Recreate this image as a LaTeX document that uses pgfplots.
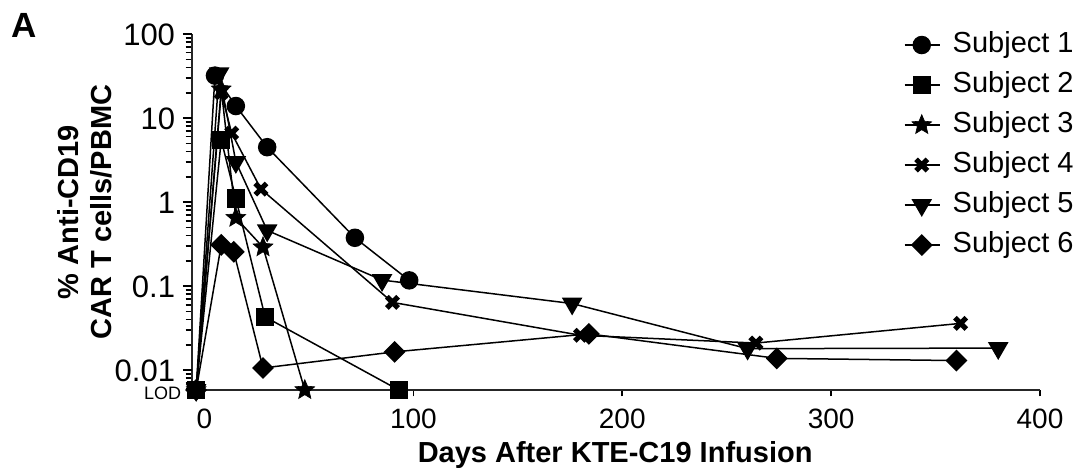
\documentclass[border=0pt]{standalone}
\usepackage{fontspec}
\setmainfont{Liberation Sans}
\usepackage{pgfplots}
\pgfplotsset{compat=1.18}
\pgfdeclareplotmark{fstar}{%
  \pgfpathmoveto{\pgfpointpolar{90}{\pgfplotmarksize}}%
  \pgfpathlineto{\pgfpointpolar{126}{0.45\pgfplotmarksize}}%
  \pgfpathlineto{\pgfpointpolar{162}{\pgfplotmarksize}}%
  \pgfpathlineto{\pgfpointpolar{198}{0.45\pgfplotmarksize}}%
  \pgfpathlineto{\pgfpointpolar{234}{\pgfplotmarksize}}%
  \pgfpathlineto{\pgfpointpolar{270}{0.45\pgfplotmarksize}}%
  \pgfpathlineto{\pgfpointpolar{306}{\pgfplotmarksize}}%
  \pgfpathlineto{\pgfpointpolar{342}{0.45\pgfplotmarksize}}%
  \pgfpathlineto{\pgfpointpolar{18}{\pgfplotmarksize}}%
  \pgfpathlineto{\pgfpointpolar{54}{0.45\pgfplotmarksize}}%
  \pgfpathclose
  \pgfusepathqfillstroke}
\begin{document}
\begin{tikzpicture}
\begin{axis}[
  scale only axis,
  width=424pt, height=178pt,
  ymode=log,
  xmin=-6, xmax=400,
  ymin=0.0058, ymax=100,
  axis x line=bottom, axis y line=left,
  axis line style={-, line width=0.9pt, black!85},
  tick align=outside,
  tick style={line width=0.8pt, black},
  major tick length=3.2pt,
  xtick={0,100,200,300,400},
  ytick={0.0058,0.006,0.007,0.008,0.009,0.02,0.03,0.04,0.05,0.06,0.07,0.08,0.09,0.2,0.3,0.4,0.5,0.6,0.7,0.8,0.9,2,3,4,5,6,7,8,9,20,30,40,50,60,70,80,90},
  yticklabels={{\fontsize{9}{9}\selectfont LOD}},
  extra y ticks={0.01,0.1,1,10,100},
  extra y tick labels={0.01,0.1,1,10,100},
  extra y tick style={major tick length=4.6pt, yticklabel style={font=\fontsize{15.5}{16}\selectfont, text height=11pt, yshift=1.5pt, xshift=-1.7pt}},
  /pgf/number format/assume math mode=true,
  xticklabel style={font=\fontsize{14}{16}\selectfont, yshift=-2.5pt},
  yticklabel style={inner sep=0pt, text height=6.5pt, text depth=0pt, xshift=-2pt, yshift=-1.5pt},
  xlabel={Days After KTE-C19 Infusion},
  xlabel style={font=\bfseries\fontsize{14.5}{16}\selectfont, at={(axis description cs:0.499,-0.183)}, anchor=center},
  ylabel={\% Anti-CD19\\CAR T cells/PBMC},
  ylabel style={font=\bfseries\fontsize{14.5}{16.5}\selectfont, align=center, at={(axis description cs:-0.127,0.5)}, anchor=center},
  clip=false,
  legend style={draw=none, fill=none, at={(axis description cs:0.832,1.025)}, anchor=north west,
    font=\fontsize{14.5}{16}\selectfont, row sep=4.5pt,
    nodes={inner sep=1pt, text height=10.5pt, text depth=3pt}},
  legend cell align=left,
  legend image code/.code={%
    \draw[mark repeat=2,mark phase=2] plot coordinates {(0cm,0cm) (0.3cm,0cm) (0.62cm,0cm)};},
  /tikz/every odd column/.append style={column sep=5pt},
  every axis plot/.append style={black, line width=0.75pt},
]
\addplot[mark=*, mark size=4.25pt] coordinates {(-4,0.0058) (5,32) (15,13.9) (30,4.5) (72,0.376) (98,0.117)};
\addlegendentry{Subject 1}
\addplot[mark=square*, mark size=4.25pt] coordinates {(-4,0.0058) (8,5.5) (15,1.1) (29,0.043) (93,0.0058)};
\addlegendentry{Subject 2}
\addplot[mark=fstar, mark size=5.2pt, mark options={line width=0.3pt}] coordinates {(-4,0.0058) (8,22) (15,0.65) (28,0.29) (48,0.0058)};
\addlegendentry{Subject 3}
\addplot[mark=x, mark size=4pt, mark options={line width=2.6pt}] coordinates {(-4,0.0058) (8,20) (13,6.6) (27,1.43) (90,0.064) (180,0.026) (264,0.021) (362,0.036)};
\addlegendentry{Subject 4}
\addplot[mark=triangle*, mark size=5.2pt, mark options={rotate=180}] coordinates {(-4,0.0058) (7,34) (15,3.0) (30,0.46) (85,0.118) (176,0.062) (260,0.018) (380,0.0183)};
\addlegendentry{Subject 5}
\addplot[mark=square*, mark size=3.5pt, mark options={rotate=45}] coordinates {(-4,0.0058) (8,0.31) (14,0.256) (28,0.0106) (91,0.0165) (184,0.027) (274,0.0138) (360,0.013)};
\addlegendentry{Subject 6}
\node[font=\bfseries\fontsize{17.5}{18}\selectfont, anchor=center] at (axis description cs:-0.198,1.025) {A};
\end{axis}
\pgfresetboundingbox
\useasboundingbox (-96pt,-41pt) rectangle (443.5pt,195pt);
\end{tikzpicture}
\end{document}
